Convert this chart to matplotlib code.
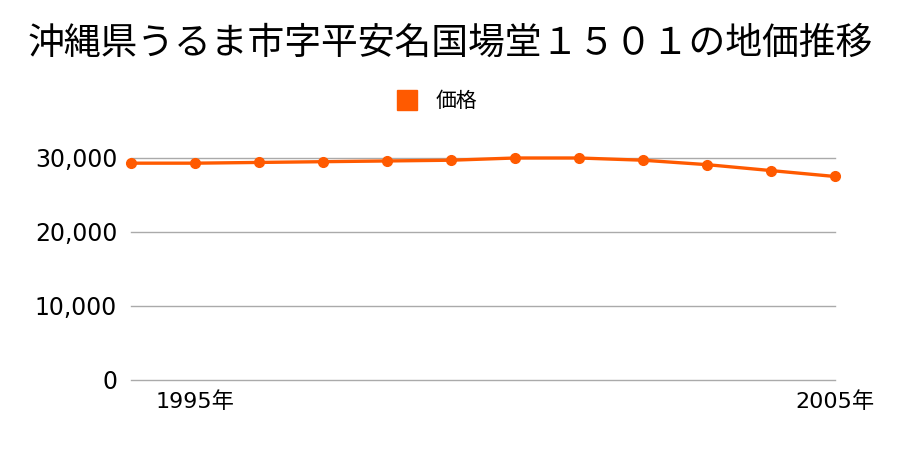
import matplotlib
matplotlib.use('Agg')
from matplotlib import pyplot as plt
from matplotlib.lines import Line2D

plt.rcParams['font.family'] = ['Noto Sans CJK JP', 'DejaVu Sans']

title = '沖縄県うるま市字平安名国場堂１５０１の地価推移'
years = [1994, 1995, 1996, 1997, 1998, 1999, 2000, 2001, 2002, 2003, 2004, 2005]
prices = [29300, 29300, 29400, 29500, 29600, 29700, 30000, 30000, 29700, 29100, 28300, 27500]
yticks = [0, 10000, 20000, 30000]
xtick_years = [1995, 2005]
color = '#ff5a00'
num_font = ['DejaVu Sans', 'Noto Sans CJK JP']

fig = plt.figure(figsize=(9, 4.5), dpi=100)
ax = fig.add_axes([0.1456, 0.1556, 0.7822, 0.4933])

for t in yticks:
    ax.axhline(t, color='#aaaaaa', lw=1, zorder=1, clip_on=False)
ax.plot(years, prices, color=color, lw=2.4, marker='o', markersize=7,
        clip_on=False, zorder=3)

ax.set_xlim(years[0], years[-1])
ax.set_ylim(0, 30000)
ax.set_yticks(yticks)
ax.set_yticklabels(['{:,}'.format(t) for t in yticks], fontsize=17, family=num_font)
ax.set_xticks(xtick_years)
ax.set_xticklabels(['%d年' % y for y in xtick_years], fontsize=16, family=num_font)
ax.tick_params(length=0, pad=10)
ax.tick_params(axis='x', pad=8)
for s in ax.spines.values():
    s.set_visible(False)

fig.text(0.5, 0.905, title, ha='center', va='center', fontsize=26.5)
handle = Line2D([], [], color=color, marker='s', markersize=15, lw=0)
fig.legend([handle], ['価格'], loc='center', bbox_to_anchor=(0.4825, 0.775),
           frameon=False, fontsize=15, handletextpad=0.6, handlelength=1.5)

fig.savefig('out.png')
